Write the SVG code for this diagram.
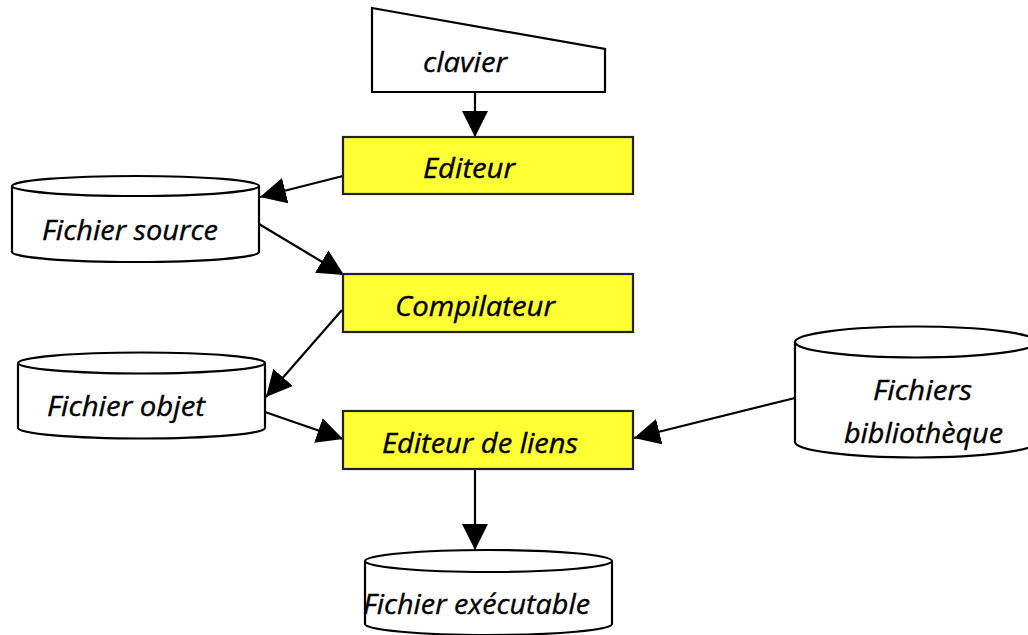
<svg xmlns="http://www.w3.org/2000/svg" width="1028" height="635" viewBox="0 0 1028 635">
  <style>
    .shape { fill: #ffffff; stroke: #000000; stroke-width: 2.2; }
    .step { fill: #ffff33; stroke: #222222; stroke-width: 2.2; }
    .lbl { font-family: "Open Sans", "Liberation Sans", sans-serif; font-style: italic; font-size: 26.5px; fill: #000000; stroke: #000000; stroke-width: 0.35; }
    .wire { stroke: #000000; stroke-width: 2.2; fill: none; marker-end: url(#head); }
  </style>
  <defs>
    <marker id="head" markerUnits="userSpaceOnUse" markerWidth="28" markerHeight="28" viewBox="0 0 28 28" refX="26" refY="14" orient="auto">
      <path d="M0,1 L26,14 L0,27 Z" fill="#000000"/>
    </marker>
  </defs>

  <!-- connectors -->
  <g id="connectors">
    <line class="wire" x1="475" y1="92" x2="475" y2="137"/>
    <line class="wire" x1="343" y1="176" x2="260" y2="197"/>
    <line class="wire" x1="259" y1="224" x2="344" y2="275"/>
    <line class="wire" x1="342" y1="310" x2="266" y2="397"/>
    <line class="wire" x1="265" y1="412" x2="343" y2="439"/>
    <line class="wire" x1="795" y1="398" x2="634" y2="438"/>
    <line class="wire" x1="475" y1="469" x2="475" y2="550"/>
  </g>

  <!-- keyboard input -->
  <g id="clavier">
    <path class="shape" d="M372,8 L605,49 L605,92 L372,92 Z"/>
    <text class="lbl" x="423" y="72" textLength="84" lengthAdjust="spacingAndGlyphs">clavier</text>
  </g>

  <!-- processing steps -->
  <g id="editeur">
    <rect class="step" x="343" y="137" width="290" height="57"/>
    <text class="lbl" x="423" y="178" textLength="92" lengthAdjust="spacingAndGlyphs">Editeur</text>
  </g>
  <g id="compilateur">
    <rect class="step" x="343" y="274" width="290" height="58"/>
    <text class="lbl" x="395" y="316" textLength="160" lengthAdjust="spacingAndGlyphs">Compilateur</text>
  </g>
  <g id="editeur-liens">
    <rect class="step" x="343" y="411" width="290" height="58"/>
    <text class="lbl" x="382" y="453" textLength="196" lengthAdjust="spacingAndGlyphs">Editeur de liens</text>
  </g>

  <!-- stored files -->
  <g id="fichier-source">
    <path class="shape" d="M12,186 A123.5,10 0 0 1 259,186 L259,252 A123.5,10 0 0 1 12,252 Z"/>
    <path class="shape" d="M12,186 A123.5,10 0 0 0 259,186"/>
    <text class="lbl" x="42" y="240" textLength="176" lengthAdjust="spacingAndGlyphs">Fichier source</text>
  </g>
  <g id="fichier-objet">
    <path class="shape" d="M18,363 A123.5,10.5 0 0 1 265,363 L265,428 A123.5,10.5 0 0 1 18,428 Z"/>
    <path class="shape" d="M18,363 A123.5,10.5 0 0 0 265,363"/>
    <text class="lbl" x="47" y="416" textLength="158" lengthAdjust="spacingAndGlyphs">Fichier objet</text>
  </g>
  <g id="fichiers-bibliotheque">
    <path class="shape" d="M795,342 A121,15.5 0 0 1 1037,342 L1037,442 A121,15.5 0 0 1 795,442 Z"/>
    <path class="shape" d="M795,342 A121,15.5 0 0 0 1037,342"/>
    <text class="lbl" x="873" y="400" textLength="99" lengthAdjust="spacingAndGlyphs">Fichiers</text>
    <text class="lbl" x="844" y="443" textLength="159" lengthAdjust="spacingAndGlyphs">bibliothèque</text>
  </g>
  <g id="fichier-executable">
    <path class="shape" d="M365,561 A123.5,11 0 0 1 612,561 L612,624 A123.5,11 0 0 1 365,624 Z"/>
    <path class="shape" d="M365,561 A123.5,11 0 0 0 612,561"/>
    <text class="lbl" x="363" y="614" textLength="227" lengthAdjust="spacingAndGlyphs">Fichier exécutable</text>
  </g>
</svg>
